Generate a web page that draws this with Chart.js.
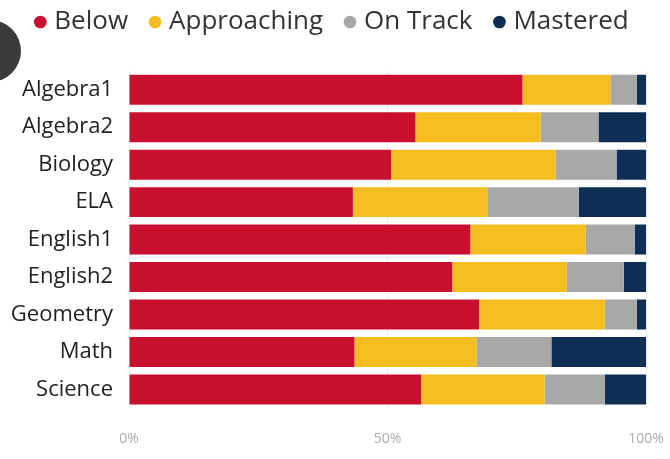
<!DOCTYPE html>
<html>
<head>
<meta charset="utf-8">
<script src="https://cdn.jsdelivr.net/npm/chart.js@4/dist/chart.umd.min.js"></script>
<style>
  html, body { margin: 0; padding: 0; background: #fff; }
  #wrap { position: relative; width: 670px; height: 459px; overflow: hidden; }
  #dot { position: absolute; left: -41px; top: 20px; width: 62px; height: 62px; border-radius: 50%; background: #3b3b3b; }
</style>
</head>
<body>
<div id="wrap">
  <canvas id="levels" width="670" height="459"></canvas>
  <div id="dot"></div>
</div>
<script>
var subjects = ['Algebra1', 'Algebra2', 'Biology', 'ELA', 'English1', 'English2', 'Geometry', 'Math', 'Science'];
var below       = [76.1, 55.4, 50.7, 43.3, 66.0, 62.5, 67.7, 43.6, 56.5];
var approaching = [17.0, 24.2, 31.8, 26.0, 22.3, 22.1, 24.3, 23.6, 23.9];
var onTrack     = [5.1, 11.2, 11.8, 17.7, 9.5, 11.1, 6.2, 14.5, 11.6];
var mastered    = [1.8, 9.2, 5.7, 13.0, 2.2, 4.3, 1.8, 18.3, 8.0];
var xTicks = [0, 50, 100];

var font = "'Open Sans', 'Noto Sans', sans-serif";

// legend gets a fixed height so the bars start where they do in the picture,
// and is nudged right a little
var legendPlace = {
    id: 'legendPlace',
    beforeInit: function (chart) {
        var fit = chart.legend.fit;
        chart.legend.fit = function () {
            fit.bind(chart.legend)();
            this.height = 88;
        };
    },
    afterLayout: function (chart) {
        chart.legend.left += 11;
        chart.legend.right += 11;
    }
};

var ctx = document.getElementById('levels');
var myChart = new Chart(ctx, {
    type: 'bar',
    data: {
        labels: subjects,
        datasets: [
            { label: 'Below', data: below, backgroundColor: '#c8102e' },
            { label: 'Approaching', data: approaching, backgroundColor: '#f5bd1f' },
            { label: 'On Track', data: onTrack, backgroundColor: '#a8a8a8' },
            { label: 'Mastered', data: mastered, backgroundColor: '#0e2e55' }
        ]
    },
    plugins: [legendPlace],
    options: {
        indexAxis: 'y',
        responsive: false,
        animation: false,
        layout: { padding: { left: 0, right: 24, top: -17, bottom: -10 } },
        datasets: { bar: { categoryPercentage: 1, barPercentage: 0.8, borderWidth: 0 } },
        plugins: {
            tooltip: { enabled: false },
            legend: {
                position: 'top',
                labels: {
                    usePointStyle: true,
                    pointStyle: 'circle',
                    boxWidth: 2,
                    boxHeight: 9,
                    padding: 26,
                    color: '#333',
                    font: { family: font, size: 26 }
                }
            }
        },
        scales: {
            x: {
                stacked: true,
                min: 0,
                max: 100,
                afterBuildTicks: function (axis) {
                    axis.ticks = xTicks.map(function (v) { return { value: v }; });
                },
                afterFit: function (axis) {
                    axis.paddingLeft = 0;
                    axis.paddingRight = 0;
                },
                ticks: {
                    color: '#aaa',
                    padding: 22,
                    font: { family: font, size: 14 },
                    callback: function (v) { return v + '%'; }
                },
                grid: { color: '#eee', drawTicks: false },
                border: { display: false }
            },
            y: {
                stacked: true,
                afterFit: function (axis) { axis.width = 129; },
                ticks: {
                    color: '#222',
                    padding: 8,
                    font: { family: font, size: 22 }
                },
                grid: { display: false },
                border: { display: false }
            }
        }
    }
});
</script>
</body>
</html>
